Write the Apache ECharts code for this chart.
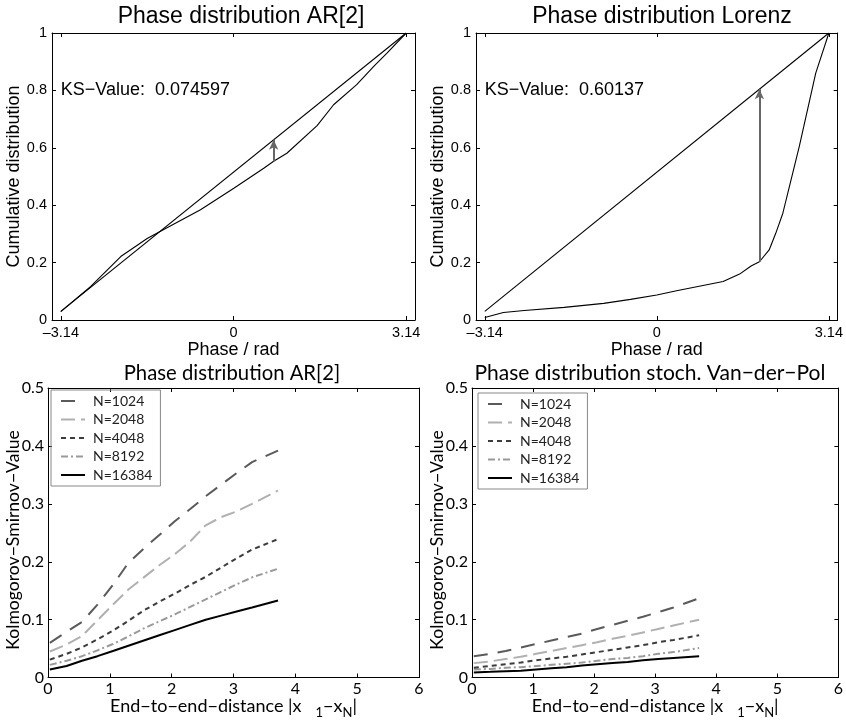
<!DOCTYPE html>
<html>
<head>
<meta charset="utf-8">
<script src="https://cdn.jsdelivr.net/npm/echarts@6/dist/echarts.min.js"></script>
<style>
  html, body { margin: 0; padding: 0; background: #fff; }
  #chart { width: 846px; height: 720px; }
</style>
</head>
<body>
<div id="chart"></div>
<script>
// ---- Phase CDFs (top row) ----
const phaseTicks = [-3.14, 0, 3.14];
const uniformPhase = [-3.14, 3.14];
const uniformCdf = [0.03, 1.0];

const ar2Phase = [-3.14, -2.78, -2.6, -2.05, -1.57, -1.31, -0.6, 0.006, 0.55, 0.73, 0.97, 1.52, 1.82, 2.24, 2.55, 2.79, 3.14];
const ar2Cdf   = [0.029, 0.087, 0.116, 0.221, 0.284, 0.311, 0.384, 0.459, 0.529, 0.553, 0.581, 0.677, 0.75, 0.82, 0.884, 0.93, 1.0];
const ar2Ks = 0.074597;
const ar2KsPhase = 0.73;
const ar2KsUniform = 0.628;

const lorenzPhase = [-3.14, -2.8, -2.42, -1.69, -0.97, -0.48, 0.0, 0.36, 1.21, 1.51, 1.72, 1.872, 2.05, 2.17, 2.3, 2.6, 2.9, 3.14];
const lorenzCdf   = [0.009, 0.026, 0.033, 0.044, 0.058, 0.072, 0.087, 0.102, 0.134, 0.16, 0.188, 0.203, 0.244, 0.302, 0.372, 0.605, 0.86, 1.0];
const lorenzKs = 0.60137;
const lorenzKsPhase = 1.872;
const lorenzKsUniform = 0.804;

// ---- KS value vs. end-to-end distance (bottom row) ----
const sampleSizes = ['N=1024', 'N=2048', 'N=4048', 'N=8192', 'N=16384'];
const distance = [0.03, 0.3, 0.55, 0.8, 1.05, 1.3, 1.55, 1.8, 2.05, 2.3, 2.55, 2.8, 3.05, 3.3, 3.72];

const ar2N1024  = [0.060, 0.079, 0.096, 0.126, 0.160, 0.198, 0.223, 0.246, 0.270, 0.291, 0.313, 0.333, 0.353, 0.372, 0.392];
const ar2N2048  = [0.045, 0.057, 0.072, 0.099, 0.126, 0.152, 0.173, 0.194, 0.213, 0.235, 0.263, 0.277, 0.287, 0.300, 0.323];
const ar2N4048  = [0.031, 0.041, 0.052, 0.066, 0.081, 0.098, 0.116, 0.131, 0.145, 0.160, 0.174, 0.190, 0.206, 0.221, 0.239];
const ar2N8192  = [0.022, 0.029, 0.037, 0.047, 0.058, 0.071, 0.085, 0.097, 0.109, 0.122, 0.135, 0.148, 0.161, 0.173, 0.188];
const ar2N16384 = [0.014, 0.020, 0.029, 0.037, 0.046, 0.055, 0.064, 0.073, 0.082, 0.091, 0.100, 0.107, 0.114, 0.121, 0.133];

const vdpN1024  = [0.037, 0.041, 0.046, 0.052, 0.058, 0.064, 0.070, 0.076, 0.084, 0.091, 0.098, 0.105, 0.113, 0.121, 0.137];
const vdpN2048  = [0.025, 0.028, 0.032, 0.036, 0.041, 0.046, 0.051, 0.056, 0.061, 0.067, 0.072, 0.078, 0.084, 0.090, 0.100];
const vdpN4048  = [0.017, 0.020, 0.023, 0.026, 0.030, 0.033, 0.036, 0.040, 0.044, 0.048, 0.052, 0.056, 0.061, 0.065, 0.073];
const vdpN8192  = [0.014, 0.015, 0.017, 0.018, 0.020, 0.022, 0.024, 0.026, 0.029, 0.032, 0.034, 0.037, 0.041, 0.044, 0.051];
const vdpN16384 = [0.009, 0.010, 0.011, 0.012, 0.014, 0.016, 0.018, 0.021, 0.023, 0.025, 0.027, 0.030, 0.032, 0.034, 0.037];

// ---- styling ----
const topFont = 'Liberation Sans';
const botFont = 'Lato';
const ksAxisName = 'Kolmogorov\u2212Smirnov\u2212Value';
const nStyles = [
  { color: '#5a5a5a', type: [14, 10] },
  { color: '#b0b0b0', type: [14, 6] },
  { color: '#3c3c3c', type: [5, 4] },
  { color: '#9a9a9a', type: [7, 3, 2, 3] },
  { color: '#000000', type: 'solid' }
];

const zip = (xs, ys) => xs.map((x, i) => [x, ys[i]]);
const minusFmt = v => (v < 0 ? '\u2013' + Math.abs(v) : String(v));

const grids = [
  { left: 52, top: 33, width: 363, height: 287 },
  { left: 476, top: 33, width: 363, height: 287 },
  { left: 48, top: 388, width: 371, height: 290 },
  { left: 472, top: 388, width: 370, height: 290 }
];

const xAxes = [];
const yAxes = [];
const lineBlack = { show: true, onZero: false, lineStyle: { color: '#000', width: 1 } };

grids.forEach((g, i) => {
  const top = i < 2;
  const font = top ? topFont : botFont;
  const tickFs = top ? 14.5 : 16;
  const xBase = top
    ? { min: -3.3, max: 3.3 }
    : { min: 0, max: 6, interval: 1 };
  const yBase = top
    ? { min: 0, max: 1, interval: 0.2 }
    : { min: 0, max: 0.5, interval: 0.1 };
  const xTick = top
    ? { inside: true, length: 4, customValues: phaseTicks, lineStyle: { color: '#000' } }
    : { inside: true, length: 4, lineStyle: { color: '#000' } };
  const xLabel = top
    ? { customValues: phaseTicks, formatter: minusFmt, margin: 5, fontSize: tickFs, fontFamily: font, color: '#000' }
    : { margin: 3, fontSize: tickFs, fontFamily: font, color: '#000', showMaxLabel: true, showMinLabel: true };
  xAxes.push(Object.assign({
    type: 'value', gridIndex: i, position: 'bottom',
    axisLine: lineBlack, axisTick: xTick, axisLabel: xLabel, splitLine: { show: false },
    name: top ? 'Phase / rad' : 'End\u2212to\u2212end\u2212distance |x{gap|}{sub|1}\u2212x{sub|N}|',
    nameLocation: 'middle', nameGap: top ? 18 : 15,
    nameTextStyle: {
      fontSize: 18, fontFamily: font, color: '#000',
      rich: top ? undefined : {
        gap: { width: 14, fontSize: 18, fontFamily: font },
        sub: { fontSize: 13, fontFamily: font, color: '#000', padding: [12, 0, 0, 0], verticalAlign: 'bottom' }
      }
    }
  }, xBase));
  xAxes.push(Object.assign({
    type: 'value', gridIndex: i, position: 'top',
    axisLine: lineBlack,
    axisTick: Object.assign({}, xTick),
    axisLabel: { show: false }, splitLine: { show: false }
  }, xBase));
  yAxes.push(Object.assign({
    type: 'value', gridIndex: i, position: 'left',
    axisLine: lineBlack,
    axisTick: { inside: true, length: 4, lineStyle: { color: '#000' } },
    axisLabel: { margin: top ? 5 : 4, fontSize: tickFs, fontFamily: font, color: '#000' },
    splitLine: { show: false },
    name: top ? 'Cumulative distribution' : '',
    nameLocation: 'middle', nameGap: 28,
    nameTextStyle: { fontSize: 18, fontFamily: font, color: '#000' }
  }, yBase));
  yAxes.push(Object.assign({
    type: 'value', gridIndex: i, position: 'right',
    axisLine: lineBlack,
    axisTick: { inside: true, length: 4, lineStyle: { color: '#000' } },
    axisLabel: { show: false }, splitLine: { show: false }
  }, yBase));
});

function cdfSeries(gi, phase, cdf, ks, ksPhase, ksUniform) {
  const ax = { xAxisIndex: gi * 2, yAxisIndex: gi * 2 };
  return [
    Object.assign({
      type: 'line', symbol: 'none', silent: true, animation: false,
      data: zip(uniformPhase, uniformCdf),
      lineStyle: { color: '#000', width: 1.1 },
      markPoint: {
        symbol: 'circle', symbolSize: 0, silent: true,
        data: [{ coord: [phaseTicks[0], 0.8] }],
        label: {
          show: true, position: 'right', distance: 0,
          formatter: 'KS\u2212Value:  ' + ks,
          fontSize: 18, fontFamily: topFont, color: '#000'
        }
      }
    }, ax),
    Object.assign({
      type: 'line', symbol: 'none', silent: true, animation: false,
      data: zip(phase, cdf),
      lineStyle: { color: '#000', width: 1.1 },
      markLine: {
        silent: true, symbol: ['none', 'arrow'], symbolSize: [7, 10],
        label: { show: false },
        lineStyle: { color: '#666', width: 2, type: 'solid' },
        data: [[{ coord: [ksPhase, +(ksUniform - ks).toFixed(4)] }, { coord: [ksPhase, ksUniform] }]]
      }
    }, ax)
  ];
}

function ksSeries(gi, sets) {
  return sets.map((vals, k) => ({
    type: 'line', name: sampleSizes[k], symbol: 'none', silent: true, animation: false,
    xAxisIndex: gi * 2, yAxisIndex: gi * 2,
    data: zip(distance, vals),
    lineStyle: { color: nStyles[k].color, type: nStyles[k].type, width: 2 },
    itemStyle: { color: nStyles[k].color },
    z: 10 - k
  }));
}

const series = [].concat(
  cdfSeries(0, ar2Phase, ar2Cdf, ar2Ks, ar2KsPhase, ar2KsUniform),
  cdfSeries(1, lorenzPhase, lorenzCdf, lorenzKs, lorenzKsPhase, lorenzKsUniform),
  ksSeries(2, [ar2N1024, ar2N2048, ar2N4048, ar2N8192, ar2N16384]),
  ksSeries(3, [vdpN1024, vdpN2048, vdpN4048, vdpN8192, vdpN16384])
);

const legendBase = {
  data: sampleSizes, orient: 'vertical', selectedMode: false,
  itemWidth: 24, itemHeight: 12, itemGap: 4.5,
  itemStyle: { opacity: 0 },
  borderColor: '#888', borderWidth: 1,
  textStyle: { fontSize: 14, fontFamily: botFont, color: '#222', padding: [0, 0, 0, 3] }
};

// rotated y-axis titles of the two lower panels
const ksNameText = (cx) => ({
  type: 'text', x: cx, y: 540, rotation: Math.PI / 2, silent: true,
  style: {
    text: ksAxisName, fontSize: 17.6, fontFamily: botFont, fill: '#000',
    align: 'center', verticalAlign: 'middle'
  }
});

const option = {
  backgroundColor: '#fff',
  animation: false,
  title: [
    { text: 'Phase distribution AR[2]', left: 236, top: 0, textAlign: 'center',
      textStyle: { fontSize: 23, fontWeight: 'normal', fontFamily: topFont, color: '#000' } },
    { text: 'Phase distribution Lorenz', left: 657, top: 0, textAlign: 'center',
      textStyle: { fontSize: 23, fontWeight: 'normal', fontFamily: topFont, color: '#000' } },
    { text: 'Phase distribution AR[2]', left: 227, top: 358, textAlign: 'center',
      textStyle: { fontSize: 20.3, fontWeight: 'normal', fontFamily: botFont, color: '#000' } },
    { text: 'Phase distribution stoch. Van\u2212der\u2212Pol', left: 645, top: 358, textAlign: 'center',
      textStyle: { fontSize: 21, fontWeight: 'normal', fontFamily: botFont, color: '#000' } }
  ],
  legend: [
    Object.assign({ left: 51, top: 390, padding: [4, 8, 4, 9] }, legendBase),
    Object.assign({ left: 478, top: 393, padding: [4, 8, 4, 9] }, legendBase)
  ],
  graphic: [ksNameText(13), ksNameText(437)],
  grid: grids,
  xAxis: xAxes,
  yAxis: yAxes,
  series: series
};

const chart = echarts.init(document.getElementById('chart'), null, { renderer: 'canvas' });
chart.setOption(option);
</script>
</body>
</html>
